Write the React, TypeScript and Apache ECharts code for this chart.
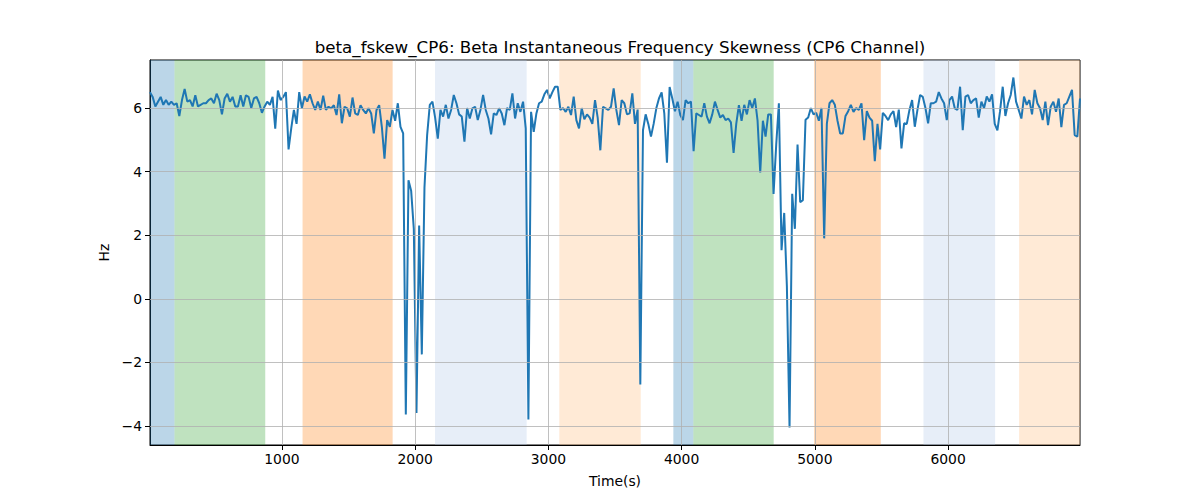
import React, { useEffect, useRef } from "react";
import * as echarts from "echarts";

const values: number[] = [
  6.5, 6.35, 6.05, 6.2, 6.35, 6.1, 6.25, 6.1, 6.2, 6.1,
  6.15, 5.75, 6.25, 6.6, 6.2, 6.25, 6.05, 6.4, 6.05, 6.1,
  6.15, 6.15, 6.25, 6.3, 6.15, 6.45, 6.25, 5.8, 6.3, 6.45,
  6.2, 6.35, 6.05, 6.05, 6.4, 6.05, 6.4, 6.35, 6.0, 6.3,
  6.35, 6.15, 5.85, 6.05, 6.2, 6.1, 6.35, 5.35, 6.55, 6.25,
  6.35, 6.5, 4.7, 5.36, 5.94, 5.5, 6.5, 5.99, 6.36, 6.2,
  6.43, 6.15, 5.94, 6.2, 5.94, 6.39, 5.94, 6.04, 5.99, 6.09,
  5.78, 6.43, 5.52, 6.04, 5.99, 5.73, 6.33, 5.83, 5.78, 6.09,
  5.94, 5.83, 5.99, 5.83, 5.2, 5.94, 6.09, 5.41, 4.41, 5.62,
  5.41, 5.94, 5.6, 6.15, 5.41, 5.2, -3.64, 3.73, 3.4, 2.2,
  -3.59, 2.3, -1.75, 3.5, 5.15, 6.1, 6.2, 5.7, 5.04, 5.94,
  5.73, 6.1, 5.67, 5.94, 6.41, 6.15, 5.8, 5.73, 4.94, 6.0,
  5.67, 5.99, 6.04, 5.62, 5.94, 6.41, 5.94, 5.67, 5.17, 5.83,
  5.78, 5.99, 5.83, 5.46, 6.0, 5.94, 6.46, 5.67, 6.15, 5.88,
  6.2, 5.36, -3.8, 5.88, 5.25, 5.83, 6.15, 6.2, 6.43, 6.57,
  6.3, 6.5, 6.67, 6.67, 5.94, 6.0, 5.88, 6.04, 5.78, 6.36,
  5.62, 5.36, 6.0, 5.65, 5.8, 5.7, 5.5, 6.25, 5.7, 4.67,
  6.04, 5.99, 5.94, 6.04, 6.62, 5.94, 5.46, 6.25, 6.15, 5.8,
  5.83, 6.46, 5.5, 5.95, -2.7, 5.3, 5.8, 5.5, 5.1, 5.5,
  5.99, 6.3, 6.49, 5.83, 4.28, 6.66, 6.3, 5.9, 6.2, 5.78,
  5.62, 6.25, 6.15, 6.2, 4.64, 5.83, 5.78, 5.73, 6.15, 5.73,
  5.52, 5.8, 6.2, 5.94, 5.7, 5.78, 5.62, 5.67, 5.55, 4.59,
  5.5, 6.09, 5.6, 6.1, 5.8, 6.25, 6.0, 6.3, 5.6, 3.97,
  5.6, 5.1, 5.8, 5.8, 3.3, 4.85, 6.15, 1.53, 2.7, 0.4,
  -4.05, 3.3, 2.2, 4.85, 3.04, 3.1, 5.63, 5.7, 6.0, 5.8,
  5.85, 5.6, 6.0, 1.9, 5.5, 6.15, 6.25, 6.1, 5.6, 5.2,
  5.2, 5.75, 5.9, 6.1, 5.88, 6.0, 5.94, 6.15, 4.99, 5.9,
  5.7, 5.6, 4.33, 5.5, 4.7, 5.85, 5.75, 5.62, 5.8, 5.9,
  5.4, 5.95, 4.73, 5.52, 5.5, 5.94, 6.25, 5.41, 5.94, 6.41,
  6.35, 6.0, 5.52, 6.15, 6.15, 6.2, 6.5, 6.3, 6.15, 5.62,
  6.25, 6.36, 5.99, 5.94, 6.67, 5.3, 6.36, 6.41, 6.15, 6.25,
  6.3, 5.7, 6.2, 6.0, 6.36, 6.2, 6.43, 5.5, 5.3, 5.9,
  6.67, 5.75, 6.15, 6.41, 6.96, 6.2, 5.94, 5.67, 6.36, 6.1,
  6.25, 5.8, 6.57, 6.15, 5.99, 5.62, 6.2, 5.46, 6.04, 6.2,
  5.88, 6.3, 5.4, 6.1, 6.15, 6.36, 6.57, 5.15, 5.1, 6.3,
];
const tStart = 10;
const tStep = 20;
const times: number[] = values.map((_, i) => tStart + tStep * i);

const xTicks: number[] = [1000, 2000, 3000, 4000, 5000, 6000];
const yTicks: number[] = [-4, -2, 0, 2, 4, 6];

const spanStarts: number[] = [10, 194, 1155, 2149, 3082, 3938, 4088, 4994, 5815, 6533];
const spanEnds: number[] = [194, 875, 1831, 2837, 3693, 4088, 4691, 5495, 6353, 6990];
const spanColors: string[] = [
  "rgba(31,119,180,0.3)",
  "rgba(44,160,44,0.3)",
  "rgba(255,127,14,0.3)",
  "rgba(174,199,232,0.3)",
  "rgba(255,187,120,0.3)",
  "rgba(31,119,180,0.3)",
  "rgba(44,160,44,0.3)",
  "rgba(255,127,14,0.3)",
  "rgba(174,199,232,0.3)",
  "rgba(255,187,120,0.3)",
];

const titleText = "beta_fskew_CP6: Beta Instantaneous Frequency Skewness (CP6 Channel)";
const FONT = "DejaVu Sans";

export default function App() {
  const ref = useRef<HTMLDivElement>(null);
  useEffect(() => {
    if (!ref.current) return;
    const chart = echarts.init(ref.current, null, { renderer: "svg" });
    const lo = Math.min(...values);
    const hi = Math.max(...values);
    const pad = (hi - lo) * 0.05;
    const xMin = times[0];
    const xMax = times[times.length - 1];
    const pts = times.map((t, i) => [t, values[i]]);
    const fmt = (v: number) => String(v).replace("-", "\u2212");
    chart.setOption({
      animation: false,
      title: {
        text: titleText,
        left: 615,
        top: 33,
        textAlign: "center",
        textStyle: { fontFamily: FONT, fontSize: 16.7, fontWeight: "normal", color: "#000" },
      },
      grid: {
        left: 150,
        right: 120,
        top: 60,
        bottom: 55,
        show: true,
        borderColor: "#000",
        borderWidth: 1,
        backgroundColor: "transparent",
      },
      xAxis: {
        type: "value",
        min: xMin,
        max: xMax,
        name: "Time(s)",
        nameLocation: "middle",
        nameGap: 29,
        nameTextStyle: { fontFamily: FONT, fontSize: 13.9, color: "#000" },
        axisLine: { show: true, onZero: false, lineStyle: { color: "#000", width: 1 } },
        axisTick: { show: true, length: 5, customValues: xTicks, lineStyle: { color: "#000" } },
        axisLabel: {
          customValues: xTicks,
          margin: 7,
          fontFamily: FONT,
          fontSize: 13.9,
          color: "#000",
          formatter: (v: number) => fmt(v),
        },
        splitLine: { show: false },
      },
      yAxis: {
        type: "value",
        min: lo - pad,
        max: hi + pad,
        name: "Hz",
        nameLocation: "middle",
        nameGap: 33,
        nameTextStyle: { fontFamily: FONT, fontSize: 13.9, color: "#000" },
        axisLine: { show: true, onZero: false, lineStyle: { color: "#000", width: 1 } },
        axisTick: { show: true, length: 5, customValues: yTicks, lineStyle: { color: "#000" } },
        axisLabel: {
          customValues: yTicks,
          margin: 8,
          fontFamily: FONT,
          fontSize: 13.9,
          color: "#000",
          formatter: (v: number) => fmt(v),
        },
        splitLine: { show: false },
      },
      series: [
        {
          type: "line",
          data: [],
          z: 1,
          silent: true,
          markArea: {
            silent: true,
            data: spanStarts.map((s, i) => [
              { xAxis: s, itemStyle: { color: spanColors[i] } },
              { xAxis: spanEnds[i] },
            ]),
          },
        },
        {
          type: "line",
          data: [],
          z: 2,
          silent: true,
          markLine: {
            silent: true,
            symbol: "none",
            label: { show: false },
            lineStyle: { color: "#b0b0b0", width: 0.8, type: "solid" },
            data: [
              ...xTicks.map((v) => ({ xAxis: v })),
              ...yTicks.map((v) => ({ yAxis: v })),
            ],
          },
        },
        {
          type: "line",
          data: pts,
          z: 3,
          showSymbol: false,
          symbol: "none",
          lineStyle: { color: "#1f77b4", width: 2 },
          itemStyle: { color: "#1f77b4" },
        },
      ],
    });
    return () => chart.dispose();
  }, []);
  return (
    <div
      ref={ref}
      style={{ position: "fixed", left: 0, top: 0, width: 1200, height: 500, background: "#fff" }}
    />
  );
}
